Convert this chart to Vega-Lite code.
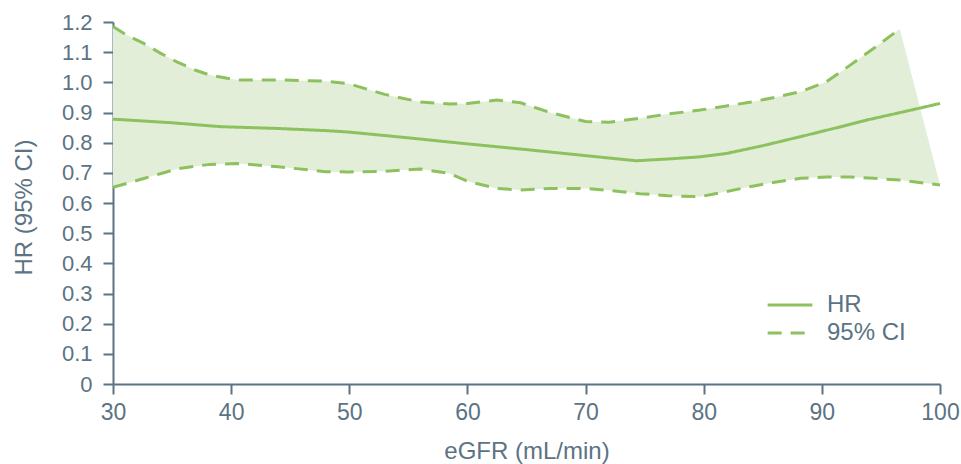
{
  "$schema": "https://vega.github.io/schema/vega-lite/v6.json",
  "width": 827,
  "height": 362,
  "autosize": "none",
  "padding": {"left": 113, "top": 22, "right": 21, "bottom": 80},
  "background": "white",
  "config": {
    "view": {"stroke": null},
    "font": "Liberation Sans",
    "axis": {"grid": false, "domainColor": "#5b7383", "domainWidth": 2, "tickColor": "#5b7383", "tickWidth": 2, "tickSize": 10, "labelColor": "#5b7383", "titleColor": "#5b7383", "labelFont": "Liberation Sans", "titleFont": "Liberation Sans", "titleFontSize": 24, "titleFontWeight": "normal", "labelOverlap": false, "labelFlush": false},
    "axisX": {"labelFontSize": 23, "labelPadding": 7},
    "axisY": {"labelFontSize": 22, "labelPadding": 11}
  },
  "datasets": {
    "band": [
      {"egfr": 30, "lo": 0.652, "hi": 1.185},
      {"egfr": 31, "lo": 0.663, "hi": 1.16},
      {"egfr": 32.6, "lo": 0.681, "hi": 1.129},
      {"egfr": 34, "lo": 0.697, "hi": 1.097},
      {"egfr": 35.4, "lo": 0.713, "hi": 1.068},
      {"egfr": 37, "lo": 0.722, "hi": 1.04},
      {"egfr": 38.2, "lo": 0.728, "hi": 1.024},
      {"egfr": 40.5, "lo": 0.731, "hi": 1.008},
      {"egfr": 44, "lo": 0.72, "hi": 1.008},
      {"egfr": 48, "lo": 0.704, "hi": 1.004},
      {"egfr": 50, "lo": 0.703, "hi": 0.995},
      {"egfr": 53, "lo": 0.705, "hi": 0.96},
      {"egfr": 56, "lo": 0.713, "hi": 0.935},
      {"egfr": 58.5, "lo": 0.698, "hi": 0.928},
      {"egfr": 60, "lo": 0.672, "hi": 0.93},
      {"egfr": 62.5, "lo": 0.648, "hi": 0.941},
      {"egfr": 64.5, "lo": 0.643, "hi": 0.932},
      {"egfr": 67, "lo": 0.648, "hi": 0.9},
      {"egfr": 70, "lo": 0.648, "hi": 0.87},
      {"egfr": 72, "lo": 0.642, "hi": 0.868},
      {"egfr": 74.6, "lo": 0.631, "hi": 0.881},
      {"egfr": 77, "lo": 0.624, "hi": 0.895},
      {"egfr": 79.7, "lo": 0.621, "hi": 0.908},
      {"egfr": 81.8, "lo": 0.637, "hi": 0.921},
      {"egfr": 83.9, "lo": 0.654, "hi": 0.934},
      {"egfr": 86, "lo": 0.669, "hi": 0.95},
      {"egfr": 88.2, "lo": 0.682, "hi": 0.969},
      {"egfr": 90.4, "lo": 0.686, "hi": 1.002},
      {"egfr": 92.4, "lo": 0.686, "hi": 1.057},
      {"egfr": 94.4, "lo": 0.682, "hi": 1.113},
      {"egfr": 96.6, "lo": 0.676, "hi": 1.177},
      {"egfr": 100, "lo": 0.66, "hi": 0.66}
    ],
    "lines": [
      {"egfr": 30, "v": 0.878, "curve": "HR", "series": "HR"},
      {"egfr": 35, "v": 0.866, "curve": "HR", "series": "HR"},
      {"egfr": 39.1, "v": 0.853, "curve": "HR", "series": "HR"},
      {"egfr": 44, "v": 0.847, "curve": "HR", "series": "HR"},
      {"egfr": 48, "v": 0.84, "curve": "HR", "series": "HR"},
      {"egfr": 50, "v": 0.835, "curve": "HR", "series": "HR"},
      {"egfr": 55, "v": 0.816, "curve": "HR", "series": "HR"},
      {"egfr": 60, "v": 0.796, "curve": "HR", "series": "HR"},
      {"egfr": 65, "v": 0.777, "curve": "HR", "series": "HR"},
      {"egfr": 70, "v": 0.757, "curve": "HR", "series": "HR"},
      {"egfr": 74.3, "v": 0.74, "curve": "HR", "series": "HR"},
      {"egfr": 77, "v": 0.746, "curve": "HR", "series": "HR"},
      {"egfr": 79.7, "v": 0.753, "curve": "HR", "series": "HR"},
      {"egfr": 81.9, "v": 0.764, "curve": "HR", "series": "HR"},
      {"egfr": 85, "v": 0.79, "curve": "HR", "series": "HR"},
      {"egfr": 88.2, "v": 0.82, "curve": "HR", "series": "HR"},
      {"egfr": 91, "v": 0.847, "curve": "HR", "series": "HR"},
      {"egfr": 93.8, "v": 0.875, "curve": "HR", "series": "HR"},
      {"egfr": 97, "v": 0.903, "curve": "HR", "series": "HR"},
      {"egfr": 100, "v": 0.93, "curve": "HR", "series": "HR"},
      {"egfr": 30, "v": 1.185, "curve": "upper", "series": "95% CI"},
      {"egfr": 31, "v": 1.16, "curve": "upper", "series": "95% CI"},
      {"egfr": 32.6, "v": 1.129, "curve": "upper", "series": "95% CI"},
      {"egfr": 34, "v": 1.097, "curve": "upper", "series": "95% CI"},
      {"egfr": 35.4, "v": 1.068, "curve": "upper", "series": "95% CI"},
      {"egfr": 37, "v": 1.04, "curve": "upper", "series": "95% CI"},
      {"egfr": 38.2, "v": 1.024, "curve": "upper", "series": "95% CI"},
      {"egfr": 40.5, "v": 1.008, "curve": "upper", "series": "95% CI"},
      {"egfr": 44, "v": 1.008, "curve": "upper", "series": "95% CI"},
      {"egfr": 48, "v": 1.004, "curve": "upper", "series": "95% CI"},
      {"egfr": 50, "v": 0.995, "curve": "upper", "series": "95% CI"},
      {"egfr": 53, "v": 0.96, "curve": "upper", "series": "95% CI"},
      {"egfr": 56, "v": 0.935, "curve": "upper", "series": "95% CI"},
      {"egfr": 58.5, "v": 0.928, "curve": "upper", "series": "95% CI"},
      {"egfr": 60, "v": 0.93, "curve": "upper", "series": "95% CI"},
      {"egfr": 62.5, "v": 0.941, "curve": "upper", "series": "95% CI"},
      {"egfr": 64.5, "v": 0.932, "curve": "upper", "series": "95% CI"},
      {"egfr": 67, "v": 0.9, "curve": "upper", "series": "95% CI"},
      {"egfr": 70, "v": 0.87, "curve": "upper", "series": "95% CI"},
      {"egfr": 72, "v": 0.868, "curve": "upper", "series": "95% CI"},
      {"egfr": 74.6, "v": 0.881, "curve": "upper", "series": "95% CI"},
      {"egfr": 77, "v": 0.895, "curve": "upper", "series": "95% CI"},
      {"egfr": 79.7, "v": 0.908, "curve": "upper", "series": "95% CI"},
      {"egfr": 81.8, "v": 0.921, "curve": "upper", "series": "95% CI"},
      {"egfr": 83.9, "v": 0.934, "curve": "upper", "series": "95% CI"},
      {"egfr": 86, "v": 0.95, "curve": "upper", "series": "95% CI"},
      {"egfr": 88.2, "v": 0.969, "curve": "upper", "series": "95% CI"},
      {"egfr": 90.4, "v": 1.002, "curve": "upper", "series": "95% CI"},
      {"egfr": 92.4, "v": 1.057, "curve": "upper", "series": "95% CI"},
      {"egfr": 94.4, "v": 1.113, "curve": "upper", "series": "95% CI"},
      {"egfr": 96.6, "v": 1.177, "curve": "upper", "series": "95% CI"},
      {"egfr": 30, "v": 0.652, "curve": "lower", "series": "95% CI"},
      {"egfr": 31, "v": 0.663, "curve": "lower", "series": "95% CI"},
      {"egfr": 32.6, "v": 0.681, "curve": "lower", "series": "95% CI"},
      {"egfr": 34, "v": 0.697, "curve": "lower", "series": "95% CI"},
      {"egfr": 35.4, "v": 0.713, "curve": "lower", "series": "95% CI"},
      {"egfr": 37, "v": 0.722, "curve": "lower", "series": "95% CI"},
      {"egfr": 38.2, "v": 0.728, "curve": "lower", "series": "95% CI"},
      {"egfr": 40.5, "v": 0.731, "curve": "lower", "series": "95% CI"},
      {"egfr": 44, "v": 0.72, "curve": "lower", "series": "95% CI"},
      {"egfr": 48, "v": 0.704, "curve": "lower", "series": "95% CI"},
      {"egfr": 50, "v": 0.703, "curve": "lower", "series": "95% CI"},
      {"egfr": 53, "v": 0.705, "curve": "lower", "series": "95% CI"},
      {"egfr": 56, "v": 0.713, "curve": "lower", "series": "95% CI"},
      {"egfr": 58.5, "v": 0.698, "curve": "lower", "series": "95% CI"},
      {"egfr": 60, "v": 0.672, "curve": "lower", "series": "95% CI"},
      {"egfr": 62.5, "v": 0.648, "curve": "lower", "series": "95% CI"},
      {"egfr": 64.5, "v": 0.643, "curve": "lower", "series": "95% CI"},
      {"egfr": 67, "v": 0.648, "curve": "lower", "series": "95% CI"},
      {"egfr": 70, "v": 0.648, "curve": "lower", "series": "95% CI"},
      {"egfr": 72, "v": 0.642, "curve": "lower", "series": "95% CI"},
      {"egfr": 74.6, "v": 0.631, "curve": "lower", "series": "95% CI"},
      {"egfr": 77, "v": 0.624, "curve": "lower", "series": "95% CI"},
      {"egfr": 79.7, "v": 0.621, "curve": "lower", "series": "95% CI"},
      {"egfr": 81.8, "v": 0.637, "curve": "lower", "series": "95% CI"},
      {"egfr": 83.9, "v": 0.654, "curve": "lower", "series": "95% CI"},
      {"egfr": 86, "v": 0.669, "curve": "lower", "series": "95% CI"},
      {"egfr": 88.2, "v": 0.682, "curve": "lower", "series": "95% CI"},
      {"egfr": 90.4, "v": 0.686, "curve": "lower", "series": "95% CI"},
      {"egfr": 92.4, "v": 0.686, "curve": "lower", "series": "95% CI"},
      {"egfr": 94.4, "v": 0.682, "curve": "lower", "series": "95% CI"},
      {"egfr": 96.6, "v": 0.676, "curve": "lower", "series": "95% CI"},
      {"egfr": 100, "v": 0.66, "curve": "lower", "series": "95% CI"}
    ]
  },
  "layer": [
    {
      "data": {"name": "band"},
      "mark": {"type": "area", "color": "#e3eed9", "opacity": 1},
      "encoding": {
        "x": {"field": "egfr", "type": "quantitative", "scale": {"domain": [30, 100], "nice": false, "zero": false}, "axis": {"values": [30, 40, 50, 60, 70, 80, 90, 100], "title": "eGFR (mL/min)", "labelFontSize": 23, "labelPadding": 7, "labelOverlap": false, "labelFlush": false, "titleY": 74, "titleBaseline": "alphabetic"}},
        "y": {"field": "hi", "type": "quantitative", "scale": {"domain": [0, 1.2], "nice": false}, "axis": {"values": [0, 0.1, 0.2, 0.3, 0.4, 0.5, 0.6, 0.7, 0.8, 0.9, 1.0, 1.1, 1.2], "labelExpr": "datum.value == 0 ? '0' : format(datum.value, '.1f')", "labelFontSize": 22, "labelOverlap": false, "title": "HR (95% CI)", "labelPadding": 11, "titleX": -89, "titleY": 185, "titleBaseline": "middle", "titleAlign": "center"}},
        "y2": {"field": "lo"}
      }
    },
    {
      "mark": {"type": "rule", "color": "#5b7383", "strokeWidth": 1.5},
      "encoding": {"y": {"datum": 1.0, "type": "quantitative", "axis": {"values": [0, 0.1, 0.2, 0.3, 0.4, 0.5, 0.6, 0.7, 0.8, 0.9, 1.0, 1.1, 1.2], "labelExpr": "datum.value == 0 ? '0' : format(datum.value, '.1f')", "labelFontSize": 22, "labelOverlap": false, "title": "HR (95% CI)", "labelPadding": 11, "titleX": -89, "titleY": 185, "titleBaseline": "middle", "titleAlign": "center"}}}
    },
    {
      "data": {"name": "lines"},
      "mark": {"type": "line", "color": "#8cc15e", "strokeWidth": 3},
      "encoding": {
        "x": {"field": "egfr", "type": "quantitative", "axis": {"values": [30, 40, 50, 60, 70, 80, 90, 100], "title": "eGFR (mL/min)", "labelFontSize": 23, "labelPadding": 7, "labelOverlap": false, "labelFlush": false, "titleY": 74, "titleBaseline": "alphabetic"}},
        "y": {"field": "v", "type": "quantitative", "axis": {"values": [0, 0.1, 0.2, 0.3, 0.4, 0.5, 0.6, 0.7, 0.8, 0.9, 1.0, 1.1, 1.2], "labelExpr": "datum.value == 0 ? '0' : format(datum.value, '.1f')", "labelFontSize": 22, "labelOverlap": false, "title": "HR (95% CI)", "labelPadding": 11, "titleX": -89, "titleY": 185, "titleBaseline": "middle", "titleAlign": "center"}},
        "detail": {"field": "curve"},
        "strokeDash": {"field": "series", "type": "nominal", "scale": {"domain": ["HR", "95% CI"], "range": [[1, 0], [14, 9]]},
          "legend": {"title": null, "orient": "none", "legendX": 653, "legendY": 271, "padding": 0, "symbolType": "stroke", "symbolSize": 2000, "symbolStrokeWidth": 3, "symbolStrokeColor": "#8cc15e", "labelFontSize": 24, "labelColor": "#5b7383", "labelFont": "Liberation Sans", "labelOffset": 13, "clipHeight": 24, "rowPadding": 4}}
      }
    }
  ]
}
